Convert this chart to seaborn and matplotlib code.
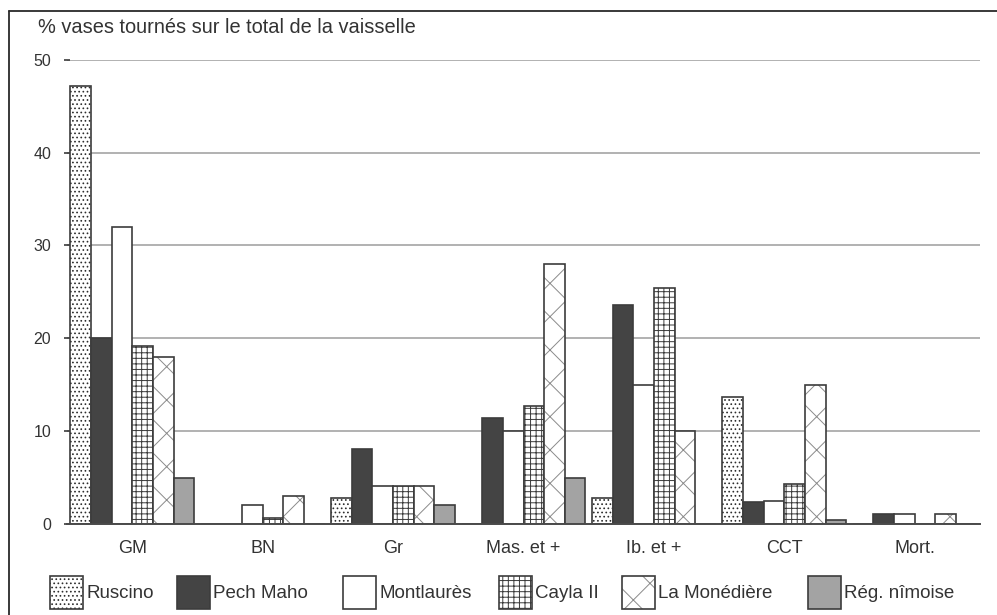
import matplotlib
matplotlib.use("Agg")
import matplotlib.pyplot as plt
import matplotlib.colors as mcolors
from matplotlib.patches import Rectangle
from matplotlib.lines import Line2D
import seaborn as sns
import pandas as pd
import numpy as np

# Categories of wheel-made ware and the six sites compared
categories = ["GM", "BN", "Gr", "Mas. et +", "Ib. et +", "CCT", "Mort."]
sites = ["Ruscino", "Pech Maho", "Montlaurès", "Cayla II", "La Monédière", "Rég. nîmoise"]

ruscino = [47.2, 0.0, 2.7, 0.0, 2.8, 13.6, 0.0]
pech_maho = [20.0, 0.0, 8.0, 11.4, 23.6, 2.3, 1.0]
montlaures = [32.0, 2.0, 4.0, 10.0, 14.9, 2.4, 1.0]
cayla_ii = [19.2, 0.6, 4.0, 12.7, 25.4, 4.3, 0.0]
la_monediere = [18.0, 3.0, 4.0, 28.0, 10.0, 14.9, 1.0]
reg_nimoise = [4.9, 0.0, 2.0, 4.9, 0.0, 0.4, 0.0]

y_ticks = [0, 10, 20, 30, 40, 50]
y_title = "% vases tournés sur le total de la vaisselle"

series = [ruscino, pech_maho, montlaures, cayla_ii, la_monediere, reg_nimoise]
df = pd.DataFrame({
    "categorie": [c for _ in sites for c in categories],
    "site": [s for s in sites for _ in categories],
    "valeur": [v for vals in series for v in vals],
})

# fill colour, hatch and hatch colour for each site
fills = ["white", "#444444", "white", "white", "white", "#a3a3a3"]
hatches = ["....", None, None, "+++", "x", None]
hatch_cols = ["#2e2e2e", None, None, "#3a3a3a", "#8a8a8a", None]
edge = "#3c3c3c"

sns.set_theme(style="white")
plt.rcParams["font.family"] = ["Liberation Sans", "DejaVu Sans"]
plt.rcParams["hatch.linewidth"] = 0.7
txt = "#333333"


def style_patch(p, h, hc):
    p.set_edgecolor(edge)
    if h:
        p.set_hatch(h)
        p._hatch_color = mcolors.to_rgba(hc)


fig = plt.figure(figsize=(9.97, 6.15), dpi=100)
ax = fig.add_axes([67 / 997, 1 - 523.5 / 615, (980 - 67) / 997, (523.5 - 60) / 615])

sns.barplot(data=df, x="categorie", y="valeur", hue="site", order=categories,
            hue_order=sites, palette=fills, width=0.95, edgecolor=edge,
            linewidth=1.2, saturation=1, legend=False, ax=ax, zorder=3)

for cont, h, hc in zip(ax.containers, hatches, hatch_cols):
    for bar in cont:
        style_patch(bar, h, hc)

ax.set_ylim(0, 50)
ax.set_xlim(-0.5, len(categories) - 0.5)
ax.set_yticks(y_ticks)
ax.set_yticklabels([str(t) for t in y_ticks], fontsize=11.5, color=txt)
ax.set_xticks(range(len(categories)))
ax.set_xticklabels(categories, fontsize=13, color=txt)
ax.set_xticks(np.arange(-0.5, len(categories)), minor=True)
ax.tick_params(axis="x", which="major", length=0, pad=12)
ax.tick_params(axis="x", which="minor", length=6, width=1.2, direction="inout", color=edge)
ax.tick_params(axis="y", length=5, width=1.2, direction="inout", color=edge, pad=9, left=True)
ax.set_xlabel("")
ax.set_ylabel("")

ax.yaxis.grid(True, color="#ababab", linewidth=1.3, zorder=0)
ax.set_axisbelow(True)
for side in ["top", "right", "left"]:
    ax.spines[side].set_visible(False)
ax.spines["bottom"].set_color("#4a4a4a")
ax.spines["bottom"].set_linewidth(1.4)
ax.spines["bottom"].set_zorder(4)

# panel frame on the top and left
fig.add_artist(Line2D([9 / 997, 1.0], [1 - 10.5 / 615] * 2, transform=fig.transFigure,
                      color="#2a2a2a", linewidth=1.3))
fig.add_artist(Line2D([9 / 997] * 2, [0.0, 1 - 10.5 / 615], transform=fig.transFigure,
                      color="#2a2a2a", linewidth=1.3))

fig.text(38 / 997, 1 - 33 / 615, y_title, fontsize=14.4, color=txt, va="baseline")

# legend row along the bottom
box_left = [50, 177, 343, 499, 622, 808]
box_w, box_top, box_bot = 33, 576, 609
for x0, name, fc, h, hc in zip(box_left, sites, fills, hatches, hatch_cols):
    rect = Rectangle((x0 / 997, 1 - box_bot / 615), box_w / 997, (box_bot - box_top) / 615,
                     transform=fig.transFigure, facecolor=fc, linewidth=1.2)
    style_patch(rect, h, hc)
    fig.add_artist(rect)
    fig.text((x0 + box_w + 3) / 997, 1 - 593 / 615, name, fontsize=13.5,
             color=txt, va="center", ha="left")

fig.savefig("out.png", dpi=100)
